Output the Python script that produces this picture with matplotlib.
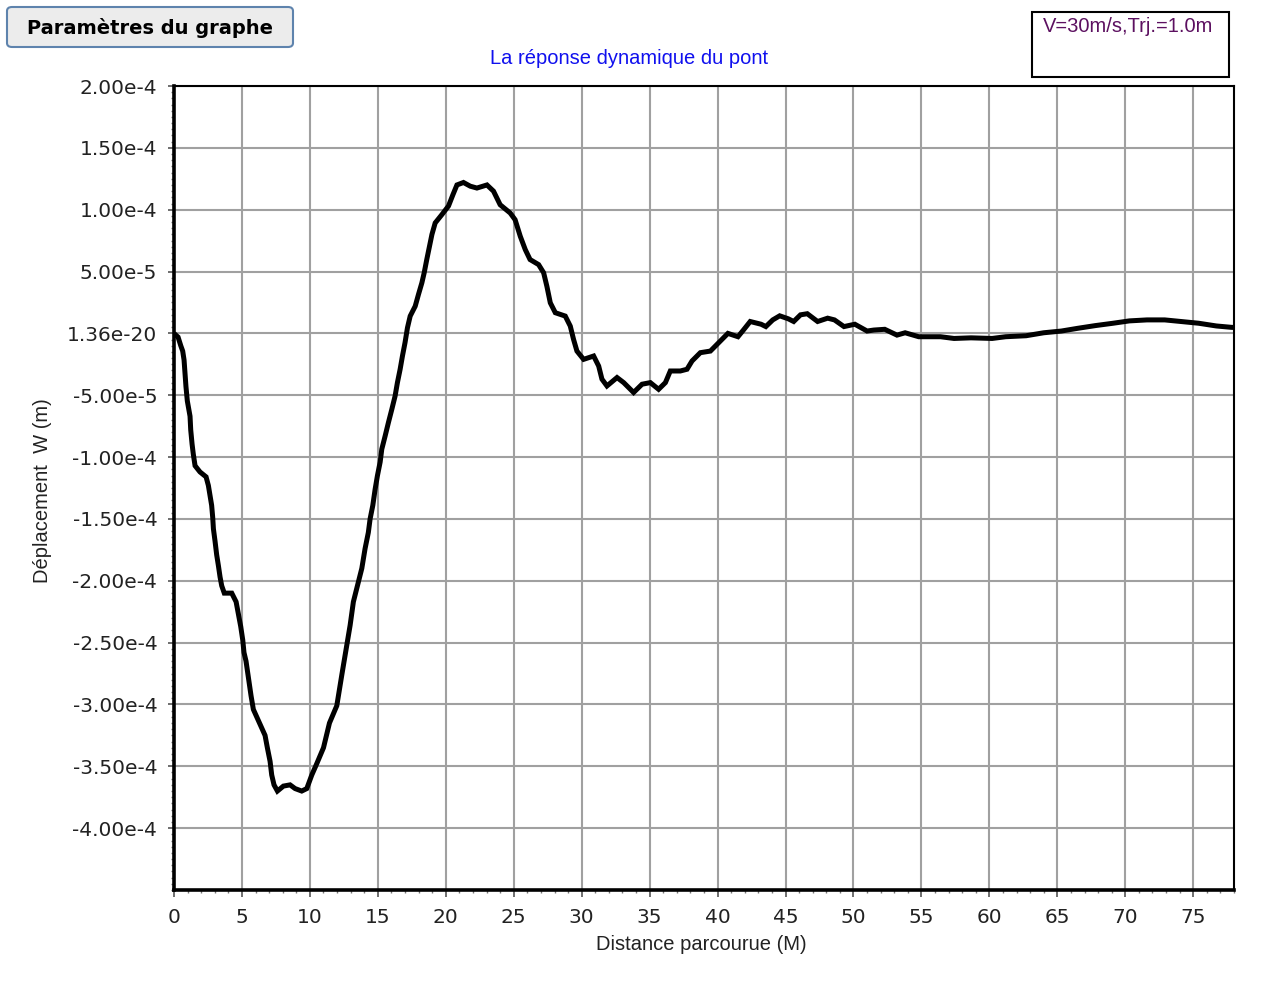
import matplotlib
matplotlib.use("Agg")
import matplotlib.pyplot as plt
from matplotlib.patches import FancyBboxPatch, Rectangle
from matplotlib.ticker import FixedLocator, MultipleLocator

# Distance travelled along the bridge (m)
distance = [
    0.0, 0.3, 0.5, 0.64, 0.74, 0.81, 0.88, 0.98, 1.18, 1.23, 1.33, 1.42, 1.55,
    1.91, 2.36, 2.53, 2.65, 2.77, 2.85, 2.90, 3.02, 3.14, 3.27, 3.39, 3.51,
    3.70, 4.25, 4.57, 4.74, 4.91, 5.06, 5.15, 5.30, 5.43, 5.54, 5.67, 5.84,
    6.21, 6.70, 6.87, 7.07, 7.19, 7.36, 7.61, 8.05, 8.54, 8.91, 9.40, 9.77,
    10.14, 10.50, 11.00, 11.44, 11.98, 12.35, 12.72, 12.96, 13.20, 13.57,
    13.82, 14.06, 14.30, 14.43, 14.63, 14.80, 14.97, 15.17, 15.29, 15.54,
    15.78, 16.03, 16.27, 16.44, 16.64, 16.81, 17.00, 17.18, 17.38, 17.75,
    17.99, 18.24, 18.41, 18.60, 18.80, 18.98, 19.22, 19.71, 20.20, 20.52,
    20.82, 21.30, 21.80, 22.29, 23.03, 23.51, 24.00, 24.74, 25.10, 25.48,
    25.85, 26.20, 26.83, 27.20, 27.44, 27.69, 28.06, 28.79, 29.16, 29.40,
    29.65, 30.14, 30.88, 31.25, 31.49, 31.86, 32.60, 33.09, 33.82, 34.44,
    35.05, 35.66, 36.16, 36.52, 37.26, 37.75, 38.12, 38.73, 39.47, 40.08,
    40.76, 41.5, 41.9, 42.4, 43.2, 43.55, 44.06, 44.57, 45.2, 45.6, 46.1,
    46.6, 47.36, 48.1, 48.6, 49.3, 50.1, 51.0, 51.5, 52.3, 53.2, 53.8, 54.8,
    56.4, 57.4, 58.65, 60.2, 61.2, 62.7, 64.0, 65.3, 66.5, 67.8, 69.1, 70.3,
    71.6, 72.9, 74.1, 75.4, 76.7, 77.8, 78.0,
]

# Vertical displacement W, in units of 1e-5 m
displacement_e5 = [
    0.0, -0.3, -1.0, -1.43, -2.15, -3.17, -4.3, -5.46, -6.7, -7.8, -8.95, -9.76,
    -10.7, -11.2, -11.6, -12.3, -13.1, -13.9, -14.9, -15.8, -16.8, -17.9, -18.8,
    -19.7, -20.4, -21.0, -21.0, -21.7, -22.7, -23.7, -24.8, -25.8, -26.5, -27.5,
    -28.4, -29.3, -30.4, -31.3, -32.5, -33.5, -34.6, -35.7, -36.5, -37.0, -36.6,
    -36.5, -36.8, -37.0, -36.8, -35.7, -34.8, -33.5, -31.5, -30.1, -27.6, -25.2,
    -23.6, -21.7, -20.1, -19.0, -17.4, -16.1, -15.0, -13.9, -12.6, -11.5, -10.4,
    -9.36, -8.28, -7.2, -6.13, -5.06, -3.98, -2.9, -1.83, -0.75, 0.46, 1.4, 2.2,
    3.15, 4.09, 4.9, 5.97, 7.04, 8.0, 8.93, 9.6, 10.3, 11.2, 12.0, 12.2, 11.9,
    11.75, 12.0, 11.5, 10.4, 9.73, 9.19, 7.85, 6.77, 5.97, 5.56, 4.9, 3.8, 2.47,
    1.67, 1.4, 0.59, -0.48, -1.43, -2.1, -1.83, -2.64, -3.7, -4.25, -3.57, -3.98,
    -4.78, -4.11, -3.98, -4.52, -3.98, -3.04, -3.04, -2.9, -2.23, -1.56, -1.43,
    -0.75, 0.0, -0.27, 0.27, 0.96, 0.74, 0.55, 1.09, 1.42, 1.18, 0.96, 1.5, 1.59,
    0.96, 1.23, 1.09, 0.55, 0.74, 0.19, 0.27, 0.33, -0.14, 0.05, -0.27, -0.27,
    -0.41, -0.36, -0.41, -0.27, -0.19, 0.05, 0.19, 0.41, 0.63, 0.82, 1.01, 1.09,
    1.09, 0.96, 0.82, 0.6, 0.49, 0.48,
]

# Axis ticks
x_ticks = list(range(0, 80, 5))
y_ticks = [2.0e-4, 1.5e-4, 1.0e-4, 5.0e-5, 1.36e-20, -5.0e-5, -1.0e-4, -1.5e-4,
           -2.0e-4, -2.5e-4, -3.0e-4, -3.5e-4, -4.0e-4]

title_text = "La réponse dynamique du pont"
x_label = "Distance parcourue (M)"
y_label = "Déplacement  W (m)"
legend_text = "V=30m/s,Trj.=1.0m"
button_text = "Paramètres du graphe"


def sci_label(v):
    mant, exp = f"{v:.2e}".split("e")
    return f"{mant}e{int(exp)}"


W, H = 1271, 994
fig = plt.figure(figsize=(W / 100, H / 100), dpi=100)
fig.patch.set_facecolor("white")

ax = fig.add_axes([174 / W, 1 - 890 / H, (1234 - 174) / W, (890 - 86) / H])
ax.set_xlim(0, 78)
ax.set_ylim(-4.5e-4, 2.0e-4)

y_values = [v * 1e-5 for v in displacement_e5]
ax.plot(distance, y_values, color="black", lw=3.6, solid_joinstyle="miter",
        solid_capstyle="butt", zorder=3)

ax.xaxis.set_major_locator(FixedLocator(x_ticks))
ax.xaxis.set_minor_locator(MultipleLocator(1))
ax.yaxis.set_major_locator(FixedLocator(y_ticks))
ax.yaxis.set_minor_locator(MultipleLocator(5e-6))
ax.set_xticklabels([str(t) for t in x_ticks])
ax.set_yticklabels([sci_label(t) for t in y_ticks])

ax.grid(True, which="major", color="#a0a0a0", lw=1.5, zorder=1)
for s in ("left", "bottom"):
    ax.spines[s].set_linewidth(2.6)
for s in ("top", "right"):
    ax.spines[s].set_linewidth(1.5)
for s in ax.spines.values():
    s.set_color("black")
    s.set_zorder(4)

tick_font = {"family": "DejaVu Sans", "size": 14.5}
ax.tick_params(axis="both", which="major", direction="out", color="#555555",
               width=1.2, labelcolor="#222222")
ax.tick_params(axis="x", which="major", length=5, pad=8)
ax.tick_params(axis="y", which="major", length=4, pad=8)
ax.tick_params(axis="both", which="minor", direction="out", length=2.5,
               width=1.0, color="#777777")
for lab in ax.get_xticklabels() + ax.get_yticklabels():
    lab.set_fontfamily(tick_font["family"])
    lab.set_fontsize(tick_font["size"])

txt_font = "Liberation Sans"
fig.text(701 / W, 1 - 944 / H, x_label, ha="center", va="center",
         fontsize=14.5, family=txt_font, color="#222222")
fig.text(43 / W, 1 - 491 / H, y_label, ha="center", va="center", rotation=90,
         fontsize=14.5, family=txt_font, color="#222222")
fig.text(629 / W, 1 - 59 / H, title_text, ha="center", va="center",
         fontsize=14.5, family=txt_font, color="#1010ee")

# Info box in the upper right corner
fig.patches.append(Rectangle((1032 / W, 1 - 77 / H), (1229 - 1032) / W, 65 / H,
                             transform=fig.transFigure, fill=False,
                             edgecolor="black", lw=1.5))
fig.text(1043 / W, 1 - 26 / H, legend_text, ha="left", va="center",
         fontsize=14.5, family=txt_font, color="#5c1060")

# Settings button in the upper left corner
fig.patches.append(FancyBboxPatch((7 / W, 1 - 47 / H), (293 - 7) / W, 40 / H,
                                  boxstyle="round,pad=0,rounding_size=0.004",
                                  transform=fig.transFigure, facecolor="#ececec",
                                  edgecolor="#5e83ad", lw=1.5))
fig.text(150 / W, 1 - 28 / H, button_text, ha="center", va="center",
         fontsize=14, family="DejaVu Sans", weight="bold", color="black")

fig.savefig("out.png", dpi=100)
